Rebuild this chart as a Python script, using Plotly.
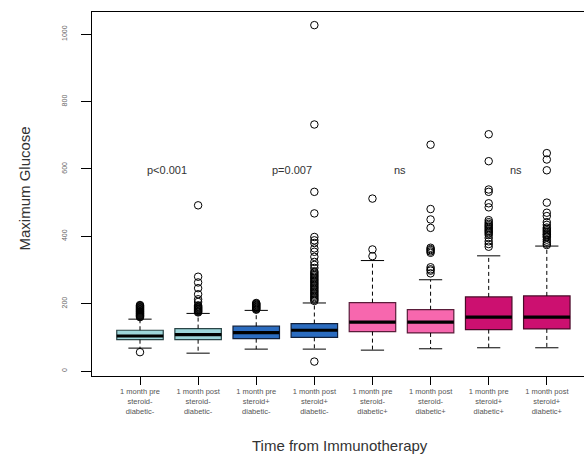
import plotly.graph_objects as go

# ---- data ----
categories = [
    "1 month pre<br>steroid-<br>diabetic-",
    "1 month post<br>steroid-<br>diabetic-",
    "1 month pre<br>steroid+<br>diabetic-",
    "1 month post<br>steroid+<br>diabetic-",
    "1 month pre<br>steroid-<br>diabetic+",
    "1 month post<br>steroid-<br>diabetic+",
    "1 month pre<br>steroid+<br>diabetic+",
    "1 month post<br>steroid+<br>diabetic+",
]
positions = [1, 2, 3, 4, 5, 6, 7, 8]
q1 = [93, 93, 96, 100, 117, 113, 123, 125]
median = [104, 108, 114, 121, 145, 145, 160, 160]
q3 = [121, 126, 133, 141, 203, 182, 220, 223]
lower_whisker = [68, 53, 65, 65, 62, 66, 69, 69]
upper_whisker = [154, 171, 180, 202, 328, 271, 342, 371]

outliers_1 = [56, 160, 162, 164, 166, 168, 170, 172, 174, 176, 178, 180, 182, 184,
              186, 188, 190, 192, 194, 196]
outliers_2 = [492, 280, 263, 246, 228, 213, 205, 174, 176, 178, 180, 182, 184, 186,
              188, 190, 192, 195]
outliers_3 = [182, 184, 186, 188, 190, 192, 194, 196, 198, 200, 202]
outliers_4 = [28, 1027, 732, 532, 468, 398, 388, 380, 364, 354, 339, 324, 315, 306,
              296, 292, 288, 284, 280, 276, 272, 268, 264, 260, 256, 252, 248, 244,
              240, 236, 232, 228, 224, 220, 216, 212, 208]
outliers_5 = [512, 361, 341]
outliers_6 = [672, 481, 450, 425, 366, 362, 359, 355, 351, 308, 302, 298, 290]
outliers_7 = [703, 623, 539, 532, 498, 486, 448, 442, 437, 433, 429, 425, 421, 417,
              413, 409, 404, 395, 385, 377, 369]
outliers_8 = [647, 628, 596, 500, 470, 460, 442, 434, 426, 422, 418, 414, 410, 406,
              404, 400, 397, 390, 384, 378, 374]
outliers = [outliers_1, outliers_2, outliers_3, outliers_4,
            outliers_5, outliers_6, outliers_7, outliers_8]

fill_colors = ["#9dd6da", "#9dd6da", "#2b6cc0", "#2b6cc0",
               "#f767ae", "#f767ae", "#cc1070", "#cc1070"]
edge_colors = ["#2a4446", "#2a4446", "#10203c", "#10203c",
               "#5a1c3a", "#5a1c3a", "#4a0a28", "#4a0a28"]

p_labels = ["p<0.001", "p=0.007", "ns", "ns"]
p_label_x = [1.46, 3.62, 5.47, 7.47]
p_label_y = [596, 596, 596, 596]

y_ticks = [0, 200, 400, 600, 800, 1000]

BOX_W = 0.8
CAP_W = 0.4
FONT = "Liberation Sans, Arial, sans-serif"

fig = go.Figure()

for i, pos in enumerate(positions):
    # dashed whiskers
    fig.add_trace(go.Scatter(
        x=[pos, pos, None, pos, pos],
        y=[q3[i], upper_whisker[i], None, q1[i], lower_whisker[i]],
        mode="lines", line=dict(color="black", width=1, dash="4px,3px"),
        hoverinfo="skip", showlegend=False))
    # whisker caps
    fig.add_trace(go.Scatter(
        x=[pos - CAP_W / 2, pos + CAP_W / 2, None, pos - CAP_W / 2, pos + CAP_W / 2],
        y=[upper_whisker[i], upper_whisker[i], None, lower_whisker[i], lower_whisker[i]],
        mode="lines", line=dict(color="black", width=1),
        hoverinfo="skip", showlegend=False))
    # box
    fig.add_trace(go.Box(
        x=[pos], q1=[q1[i]], median=[median[i]], q3=[q3[i]],
        lowerfence=[q1[i]], upperfence=[q3[i]],
        width=BOX_W, whiskerwidth=0,
        fillcolor=fill_colors[i], line=dict(color=edge_colors[i], width=1.2),
        boxpoints=False, showlegend=False, hoverinfo="skip"))
    # thick median
    fig.add_trace(go.Scatter(
        x=[pos - BOX_W / 2, pos + BOX_W / 2], y=[median[i], median[i]],
        mode="lines", line=dict(color="black", width=3.2),
        hoverinfo="skip", showlegend=False))
    # outliers
    fig.add_trace(go.Scatter(
        x=[pos] * len(outliers[i]), y=outliers[i], mode="markers",
        marker=dict(symbol="circle-open", size=7.5, color="black", line=dict(width=1)),
        hoverinfo="skip", showlegend=False))

# p-value labels
for txt, xx, yy in zip(p_labels, p_label_x, p_label_y):
    fig.add_annotation(x=xx, y=yy, xref="x", yref="y", text=txt, showarrow=False,
                       xanchor="center", yanchor="middle",
                       font=dict(family=FONT, size=11, color="#333333"))

W, H = 584, 457
ML, MT, MB = 92, 12, 81
PW, PH = W - ML, H - MT - MB

# axis titles
fig.add_annotation(xref="paper", yref="paper", x=(25 - ML) / PW, y=0.515,
                   xanchor="center", yanchor="middle",
                   text="Maximum Glucose", textangle=-90, showarrow=False,
                   font=dict(family=FONT, size=15, color="#333333"))
fig.add_annotation(xref="paper", yref="paper", x=(340 - ML) / PW,
                   y=((MT + PH) - 445) / PH, xanchor="center", yanchor="middle",
                   text="Time from Immunotherapy", showarrow=False,
                   font=dict(family=FONT, size=15, color="#333333"))

fig.update_layout(
    width=W, height=H,
    margin=dict(l=ML, r=0, t=MT, b=MB, autoexpand=False),
    paper_bgcolor="white", plot_bgcolor="white",
    font=dict(family=FONT, color="#444444"),
    xaxis=dict(range=[0.174, 8.64], tickmode="array", tickvals=positions,
               ticktext=categories, ticks="outside", ticklen=8, tickcolor="black",
               showline=True, linecolor="black", linewidth=1.2, mirror=True,
               showgrid=False, zeroline=False,
               tickfont=dict(family=FONT, size=7.5, color="#555555")),
    yaxis=dict(range=[-14.8, 1066], tickmode="array", tickvals=y_ticks,
               ticktext=[str(v) for v in y_ticks], ticks="outside", ticklen=10,
               tickcolor="black", tickangle=-90, ticklabelstandoff=11,
               showline=True, linecolor="black", linewidth=1.2, mirror=False,
               showgrid=False, zeroline=False,
               tickfont=dict(family=FONT, size=7, color="#666666")),
)

fig.write_html(
    "out.html",
    config={"displayModeBar": False},
    post_script="document.body.style.margin='0px';document.body.style.overflow='hidden';",
)
